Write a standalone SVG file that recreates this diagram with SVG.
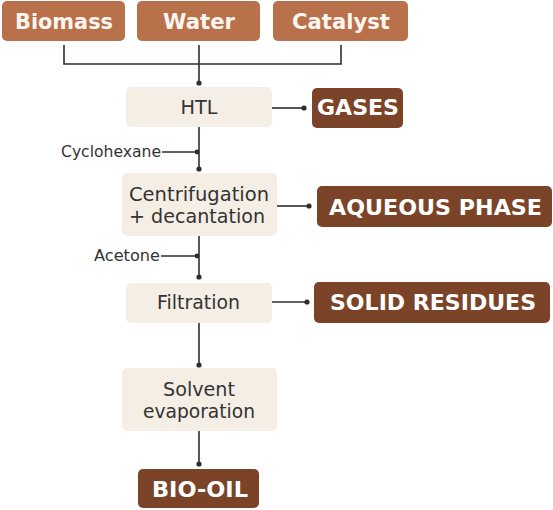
<svg xmlns="http://www.w3.org/2000/svg" width="553" height="510" viewBox="0 0 553 510">
<defs>
<style>
.in{fill:#b9714b}
.out{fill:#7b4429}
.proc{fill:#f5eee5}
.tin{font-family:"DejaVu Sans","Liberation Sans",sans-serif;font-weight:bold;font-size:22px;fill:#fdf6f0;text-anchor:middle}
.tout{font-family:"DejaVu Sans","Liberation Sans",sans-serif;font-weight:bold;font-size:22px;fill:#ffffff;text-anchor:middle}
.tp{font-family:"DejaVu Sans","Liberation Sans",sans-serif;font-size:19px;fill:#333333;text-anchor:middle}
.tl{font-family:"DejaVu Sans","Liberation Sans",sans-serif;font-size:15px;fill:#333333;text-anchor:end}
.ln{stroke:#2e2e2e;stroke-width:1.6;fill:none}
.dot{fill:#2e2e2e}
</style>
</defs>
<rect width="553" height="510" fill="#ffffff"/>
<g id="connectors">
<path class="ln" d="M64 45V64H341V45"/>
<path class="ln" d="M199 45V83"/>
<circle class="dot" cx="199" cy="83" r="2.6"/>
<path class="ln" d="M272 108H304"/>
<circle class="dot" cx="304" cy="108" r="2.6"/>
<path class="ln" d="M199 127V169"/>
<circle class="dot" cx="199" cy="169" r="2.6"/>
<path class="ln" d="M162 152H197"/>
<circle class="dot" cx="197" cy="152" r="2.4"/>
<path class="ln" d="M277 206H309"/>
<circle class="dot" cx="309" cy="206" r="2.6"/>
<path class="ln" d="M199 236V277"/>
<circle class="dot" cx="199" cy="277" r="2.6"/>
<path class="ln" d="M161 256H197"/>
<circle class="dot" cx="197" cy="256" r="2.4"/>
<path class="ln" d="M272 302H307"/>
<circle class="dot" cx="307" cy="302" r="2.6"/>
<path class="ln" d="M199 323V365"/>
<circle class="dot" cx="199" cy="365" r="2.6"/>
<path class="ln" d="M199 431V464"/>
<circle class="dot" cx="199" cy="464" r="2.6"/>
</g>
<g id="biomass">
<rect class="in" x="2" y="1" width="123" height="40" rx="5"/>
<text class="tin" x="64" y="29" textLength="98" lengthAdjust="spacingAndGlyphs">Biomass</text>
</g>
<g id="water">
<rect class="in" x="137" y="1" width="123" height="40" rx="5"/>
<text class="tin" x="199" y="29" textLength="72" lengthAdjust="spacingAndGlyphs">Water</text>
</g>
<g id="catalyst">
<rect class="in" x="273" y="1" width="135" height="40" rx="5"/>
<text class="tin" x="341" y="29" textLength="98" lengthAdjust="spacingAndGlyphs">Catalyst</text>
</g>
<g id="htl">
<rect class="proc" x="126" y="87" width="146" height="40" rx="5"/>
<text class="tp" x="199" y="114" textLength="37" lengthAdjust="spacingAndGlyphs">HTL</text>
</g>
<g id="gases">
<rect class="out" x="312" y="88" width="91" height="40" rx="5"/>
<text class="tout" x="358" y="115" textLength="82" lengthAdjust="spacingAndGlyphs">GASES</text>
</g>
<g id="cyclohexane">
<text class="tl" x="161" y="157" textLength="100" lengthAdjust="spacingAndGlyphs">Cyclohexane</text>
</g>
<g id="centrifugation">
<rect class="proc" x="122" y="173" width="155" height="63" rx="5"/>
<text class="tp" x="199" y="200.5" textLength="140" lengthAdjust="spacingAndGlyphs">Centrifugation</text>
<text class="tp" x="197" y="222.5" textLength="136" lengthAdjust="spacingAndGlyphs">+ decantation</text>
</g>
<g id="aqueous">
<rect class="out" x="317" y="186" width="235" height="41" rx="5"/>
<text class="tout" x="435.5" y="215" textLength="213" lengthAdjust="spacingAndGlyphs">AQUEOUS PHASE</text>
</g>
<g id="acetone">
<text class="tl" x="160" y="261" textLength="66" lengthAdjust="spacingAndGlyphs">Acetone</text>
</g>
<g id="filtration">
<rect class="proc" x="126" y="283" width="146" height="40" rx="5"/>
<text class="tp" x="198.5" y="309" textLength="83" lengthAdjust="spacingAndGlyphs">Filtration</text>
</g>
<g id="solid">
<rect class="out" x="314" y="282" width="236" height="41" rx="5"/>
<text class="tout" x="433" y="310" textLength="206" lengthAdjust="spacingAndGlyphs">SOLID RESIDUES</text>
</g>
<g id="solvent">
<rect class="proc" x="122" y="368" width="155" height="63" rx="5"/>
<text class="tp" x="199" y="395.5" textLength="72" lengthAdjust="spacingAndGlyphs">Solvent</text>
<text class="tp" x="199" y="417.5" textLength="112" lengthAdjust="spacingAndGlyphs">evaporation</text>
</g>
<g id="biooil">
<rect class="out" x="138" y="469" width="121" height="39" rx="5"/>
<text class="tout" x="200" y="497" textLength="96" lengthAdjust="spacingAndGlyphs">BIO-OIL</text>
</g>
</svg>
